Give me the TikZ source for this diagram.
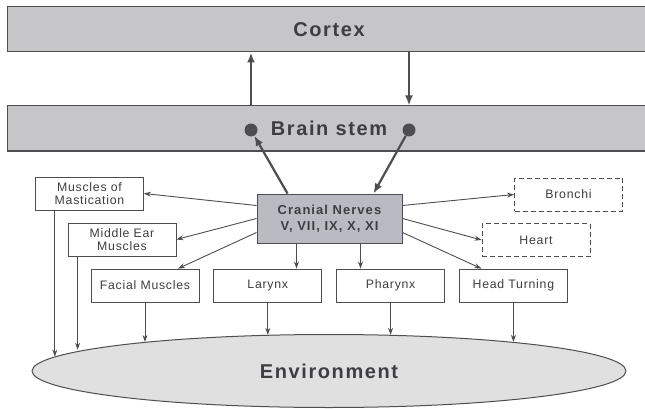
\documentclass[tikz,border=0pt]{standalone}
\usepackage{fontspec}
\setmainfont{Liberation Sans}
\newfontfamily\spacedfont[LetterSpace=8]{Liberation Sans}
\newfontfamily\smallspacedfont[LetterSpace=6]{Liberation Sans}
\usepackage{tikz}
\usetikzlibrary{positioning,arrows.meta,shapes.geometric,calc}
\definecolor{bargray}{RGB}{198,198,201}
\definecolor{nervegray}{RGB}{186,186,194}
\definecolor{envgray}{RGB}{224,224,224}
\definecolor{inkgray}{RGB}{78,78,82}
\definecolor{textgray}{RGB}{62,62,66}

\begin{document}
\begin{tikzpicture}[x=1pt, y=-1pt, node distance=14pt,
    every node/.style={text=textgray, font=\smallspacedfont\fontsize{12.3}{13}\selectfont},
    bar/.style={draw=inkgray, line width=1pt, fill=bargray, minimum width=644pt, minimum height=45pt, font=\spacedfont\bfseries\fontsize{20}{24}\selectfont},
    organ/.style={draw=inkgray, line width=0.8pt, fill=white, minimum width=108pt, minimum height=33pt, align=center, inner sep=1pt},
    maybe/.style={organ, dash pattern=on 5pt off 3pt},
    bigarrow/.style={draw=inkgray, line width=2.2pt, -{Latex[length=10pt,width=8pt]}},
    arrow/.style={draw=inkgray, line width=0.9pt, -{Stealth[length=7pt,width=5pt]}}]
        \useasboundingbox (0,0) rectangle (645,409);
        \node[bar] (cortex) at (329,29.5) {Cortex};
        \node[bar] (brain) at (329,128.5) {Brain stem};
        \node[circle, fill=inkgray, minimum size=13pt, inner sep=0pt] (ldot) at (251,130) {};
        \node[circle, fill=inkgray, minimum size=13pt, inner sep=0pt] (rdot) at (409,130) {};
        \node[draw=inkgray, line width=1pt, fill=nervegray, minimum width=145pt, minimum height=49pt, align=center, font=\spacedfont\bfseries\fontsize{13}{16}\selectfont] (nerves) at (329.5,218.5) {Cranial Nerves\\V, VII, IX, X, XI};
        \node[organ] (mast) at (89.5,193.5) {Muscles of\\Mastication};
        \node[organ] (mear) at (122,239.5) {Middle Ear\\Muscles};
        \node[organ] (facial) at (145,285.5) {Facial Muscles};
        \node[organ, right=of facial] (larynx) {Larynx};
        \node[organ, right=of larynx] (pharynx) {Pharynx};
        \node[organ, right=of pharynx] (head) {Head Turning};
        \node[maybe] (bronchi) at (568.5,194.5) {Bronchi};
        \node[maybe] (heart) at (536,240) {Heart};
        \node[ellipse, draw=inkgray, line width=1pt, fill=envgray, minimum width=594pt, minimum height=73pt, font=\spacedfont\bfseries\fontsize{20}{24}\selectfont] (env) at (329,371) {Environment};
        % cortex <-> brain stem
        \draw[bigarrow] (ldot |- brain.north) -- (ldot |- cortex.south);
        \draw[bigarrow] (rdot |- cortex.south) -- (rdot |- brain.north);
        \draw[bigarrow] ([xshift=-42pt]nerves.north) -- (ldot);
        \draw[bigarrow] (rdot) -- ([xshift=44pt]nerves.north);
        % cranial nerves to targets
        \draw[arrow] ([yshift=13pt]nerves.west) -- (mast.east);
        \draw[arrow] (nerves.west) -- (mear.east);
        \draw[arrow] ([yshift=-14pt]nerves.west) -- ([xshift=33pt]facial.north);
        \draw[arrow] ([xshift=-33pt]nerves.south) -- ([xshift=-33pt]nerves.south |- larynx.north);
        \draw[arrow] ([xshift=31pt]nerves.south) -- ([xshift=31pt]nerves.south |- pharynx.north);
        \draw[arrow] ([yshift=13pt]nerves.east) -- (bronchi.west);
        \draw[arrow] (nerves.east) -- (heart.west);
        \draw[arrow] ([yshift=-14pt]nerves.east) -- ([xshift=-32pt]head.north);
        % targets to environment
        \draw[arrow] (env.177 |- mast.south) -- (env.177);
        \draw[arrow] ([xshift=10pt]mear.south west) -- ([xshift=10pt]mear.south west |- env.175);
        \draw[arrow] (facial.south) -- (facial.south |- env.171);
        \draw[arrow] (larynx.south) -- (larynx.south |- env.150);
        \draw[arrow] (pharynx.south) -- (pharynx.south |- env.30);
        \draw[arrow] (head.south) -- (head.south |- env.9);
    \end{tikzpicture}
\end{document}
